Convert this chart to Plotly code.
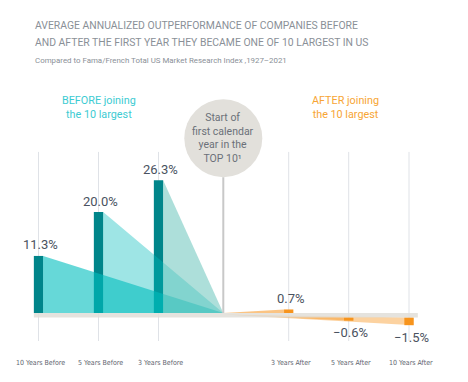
import plotly.graph_objects as go

# ---- data ----
before_categories = ["10 Years Before", "5 Years Before", "3 Years Before"]
before_values = [11.3, 20.0, 26.3]
after_categories = ["3 Years After", "5 Years After", "10 Years After"]
after_values = [0.7, -0.6, -1.5]
title_lines = ["AVERAGE ANNUALIZED OUTPERFORMANCE OF COMPANIES BEFORE",
               "AND AFTER THE FIRST YEAR THEY BECAME ONE OF 10 LARGEST IN US"]
subtitle = "Compared to Fama/French Total US Market Research Index ,1927\u20132021"
start_label = "Start of<br>first calendar<br>year in the<br>TOP 10\u00b9"

# ---- layout helpers ----
# the page body has an 8px margin, so the figure is drawn 8px smaller and shifted
OFF = 8
W, H = 468 - OFF, 382 - OFF
before_pos = [0, 1, 2]
start_pos = 3.08
after_pos = [4.17, 5.17, 6.175]
bar_w = 0.155
band = 0.91  # thickness of zero band (in % units)
NARROW = "DejaVu Sans Condensed, Roboto, sans-serif"
MAIN = "Roboto, sans-serif"

TEAL = "#00858a"
ORANGE = "#f7941d"

fig = go.Figure()

# before triangles (fan to the start line)
tri_colors = ["rgba(0,190,190,0.6)", "rgba(0,187,187,0.38)", "rgba(109,198,189,0.56)"]
for p, v, c in zip(before_pos, before_values, tri_colors):
    xe = p + bar_w / 2
    fig.add_trace(go.Scatter(x=[xe, start_pos, xe, xe], y=[v, 0, 0, v], fill="toself",
                             fillcolor=c, mode="lines", line=dict(width=0),
                             hoverinfo="skip", showlegend=False))

# after wedges
for p, v in zip(after_pos, after_values):
    if v >= 0:
        xe = p - bar_w / 2
        fig.add_trace(go.Scatter(x=[start_pos, xe, xe, start_pos], y=[0, v, 0, 0], fill="toself",
                                 fillcolor="rgba(247,148,29,0.55)", mode="lines", line=dict(width=0),
                                 hoverinfo="skip", showlegend=False))
    else:
        xe = p + bar_w / 2
        fig.add_trace(go.Scatter(x=[start_pos, xe, xe, start_pos], y=[-band * 0.3, -band + v, -band, -band * 0.3],
                                 fill="toself", fillcolor="rgba(247,148,29,0.42)", mode="lines",
                                 line=dict(width=0), hoverinfo="skip", showlegend=False))

# bars
fig.add_trace(go.Bar(x=before_pos, y=before_values, width=bar_w, marker=dict(color=TEAL, line=dict(width=0)),
                     hoverinfo="skip", showlegend=False))
fig.add_trace(go.Bar(x=after_pos, y=after_values, base=[0 if v >= 0 else -band for v in after_values],
                     width=bar_w, marker=dict(color=ORANGE, line=dict(width=0)),
                     hoverinfo="skip", showlegend=False))

shapes = []
# gridlines
for p in before_pos + after_pos:
    shapes.append(dict(type="line", xref="x", yref="y", x0=p, x1=p, y0=-5.55, y1=31.9,
                       line=dict(color="#dfe2e7", width=1), layer="below"))
# zero band
shapes.append(dict(type="rect", xref="x", yref="y", x0=before_pos[0] - bar_w / 2, x1=after_pos[-1] + bar_w / 2 + 0.07,
                   y0=0, y1=-band, fillcolor="rgba(224,222,216,0.85)", line=dict(width=0), layer="above"))
# start line
shapes.append(dict(type="line", xref="x", yref="y", x0=start_pos, x1=start_pos, y0=0, y1=26.9,
                   line=dict(color="#c8c8c8", width=2), layer="above"))
# circle
shapes.append(dict(type="circle", xref="x", yref="y", xsizemode="pixel", ysizemode="pixel",
                   xanchor=start_pos, yanchor=34.6, x0=-39, x1=39, y0=-39, y1=39,
                   fillcolor="#e2e0db", line=dict(width=0), layer="above"))

ann = []
VAL_COLOR = "#4a5260"
for p, v in zip(before_pos, before_values):
    ann.append(dict(x=p, y=v, text=f"{v:.1f}%", showarrow=False, xshift=2, yshift=11,
                    font=dict(family=MAIN, size=13, color=VAL_COLOR)))
for p, v in zip(after_pos, after_values):
    base = 0 if v >= 0 else -band
    ann.append(dict(x=p, y=base + v, text=f"{v:.1f}%".replace("-", "\u2212") if v < 0 else f"{v:.1f}%",
                    showarrow=False, xshift=2, yshift=(11 if v >= 0 else -12),
                    font=dict(family=MAIN, size=13, color=VAL_COLOR)))
for p, c in zip(before_pos + after_pos, before_categories + after_categories):
    ann.append(dict(x=p, y=-9.9, text=c, showarrow=False, xshift=2,
                    font=dict(family=NARROW, size=7, color="#5f6670")))
ann.append(dict(x=start_pos, y=34.6, text=start_label, showarrow=False,
                font=dict(family=MAIN, size=10.5, color="#6b7079")))
ann.append(dict(x=1, y=40.6, text="BEFORE joining<br>the 10 largest", showarrow=False,
                font=dict(family=MAIN, size=10.8, color="#3ccbd2")))
ann.append(dict(x=5.12, y=40.6, text="AFTER joining<br>the 10 largest", showarrow=False,
                font=dict(family=MAIN, size=10.8, color="#f7a534")))
# titles (paper coordinates)
for txt, ypx, sz in [(title_lines[0], 26, 10.4), (title_lines[1], 42.5, 10.4), (subtitle, 60, 7.9)]:
    ann.append(dict(xref="paper", yref="paper", x=(33 - OFF) / W, y=1 - (ypx - OFF) / H,
                    xanchor="left", yanchor="middle",
                    text=txt, showarrow=False, font=dict(family=MAIN, size=sz, color="#8a9097")))

px_per = 5.05
x_zero = 38.5 - OFF
y_zero = 313 - OFF
fig.update_layout(
    width=W, height=H, autosize=False,
    margin=dict(l=0, r=0, t=0, b=0, pad=0),
    paper_bgcolor="white", plot_bgcolor="white",
    barmode="overlay",
    xaxis=dict(visible=False, range=[-x_zero / 60, (W - x_zero) / 60], fixedrange=True),
    yaxis=dict(visible=False, range=[-(H - y_zero) / px_per, y_zero / px_per], fixedrange=True),
    shapes=shapes, annotations=ann, showlegend=False,
)
fig.write_html("out.html")
